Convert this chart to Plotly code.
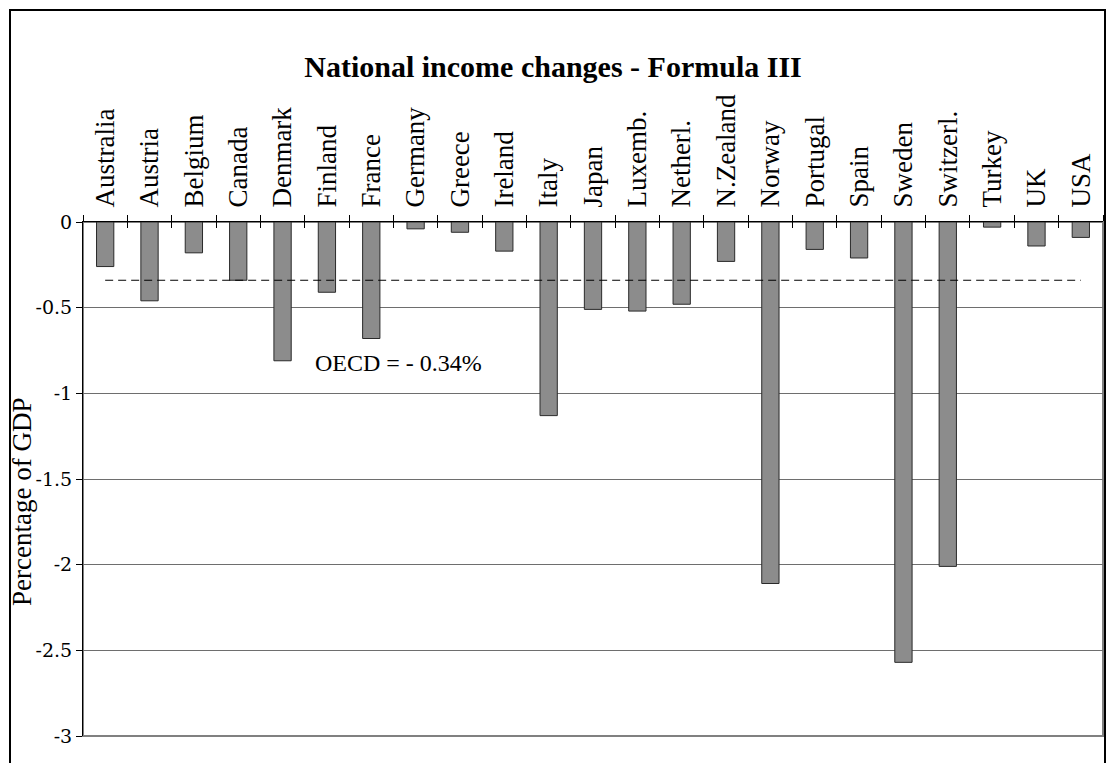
import plotly.graph_objects as go

categories = ["Australia", "Austria", "Belgium", "Canada", "Denmark", "Finland", "France",
              "Germany", "Greece", "Ireland", "Italy", "Japan", "Luxemb.", "Netherl.",
              "N.Zealand", "Norway", "Portugal", "Spain", "Sweden", "Switzerl.", "Turkey",
              "UK", "USA"]
values = [-0.26, -0.46, -0.18, -0.34, -0.81, -0.41, -0.68,
          -0.04, -0.06, -0.17, -1.13, -0.51, -0.52, -0.48,
          -0.23, -2.11, -0.16, -0.21, -2.57, -2.01, -0.03,
          -0.14, -0.09]
oecd_avg = -0.34
y_tickvals = [0, -0.5, -1, -1.5, -2, -2.5, -3]
y_ticktext = ["0", "-0.5", "-1", "-1.5", "-2", "-2.5", "-3"]

W, H = 1106, 763
L, R, T, B = 83, 3, 222, 27
pw = W - L - R
ph = H - T - B

SERIF = "Liberation Serif"

fig = go.Figure()
fig.add_trace(go.Bar(
    x=categories, y=values, width=0.39,
    marker=dict(color="#8c8c8c", line=dict(color="#2a2a2a", width=1)),
    showlegend=False, hoverinfo="x+y"))
# dashed OECD average line, drawn on the secondary (numeric) x axis from first to last category centre
idx = list(range(len(categories)))
fig.add_trace(go.Scatter(
    x=idx, y=[oecd_avg] * len(categories), mode="lines", xaxis="x2",
    line=dict(color="black", width=1, dash="8px,5px"),
    showlegend=False, hoverinfo="skip"))

fig.update_layout(
    width=W, height=H,
    margin=dict(l=L, r=R, t=T, b=B),
    paper_bgcolor="white", plot_bgcolor="white",
    title=dict(text="<b>National income changes - Formula III</b>",
               font=dict(family=SERIF, size=30, color="black"),
               x=0.5, xref="container", xanchor="center",
               y=1 - 66 / H, yref="container", yanchor="middle"),
    xaxis=dict(type="category", side="top", tickangle=-90,
               tickfont=dict(family=SERIF, size=27, color="black"),
               ticks="outside", ticklen=6, tickcolor="black", tickson="boundaries",
               ticklabelstandoff=8,
               showline=True, linecolor="black", linewidth=1,
               showgrid=False, range=[-0.5, len(categories) - 0.5], fixedrange=True),
    xaxis2=dict(overlaying="x", side="top", anchor="y", range=[-0.5, len(categories) - 0.5],
                tick0=-0.5, dtick=1, ticks="inside", ticklen=6, tickcolor="black",
                showticklabels=False, showgrid=False, showline=False, zeroline=False,
                fixedrange=True),
    yaxis=dict(range=[-3, 0], tickvals=y_tickvals, ticktext=y_ticktext,
               tickfont=dict(family="DejaVu Serif", size=19, color="black"),
               ticks="outside", ticklen=6, tickcolor="black",
               showline=True, linecolor="black", linewidth=1,
               showgrid=True, gridcolor="#6e6e6e", gridwidth=1,
               zeroline=False, fixedrange=True),
    bargap=0.6,
)

# plot area border (gray) on right/bottom
fig.add_shape(type="rect", xref="paper", yref="paper", x0=0, x1=1, y0=0, y1=1,
              line=dict(color="#808080", width=2), layer="below")
# outer frame
fig.add_shape(type="rect", xref="paper", yref="paper",
              x0=(10 - L) / pw, x1=(1105 - L) / pw,
              y0=-(B + 20) / ph, y1=1 + (T - 10) / ph,
              line=dict(color="black", width=2))

fig.add_annotation(text="OECD = - 0.34%", xref="paper", yref="y",
                   x=(398 - L) / pw, y=-(363 - T) / (ph / 3),
                   xanchor="center", yanchor="middle",
                   showarrow=False, font=dict(family=SERIF, size=24, color="black"))
fig.add_annotation(text="Percentage of GDP", xref="paper", yref="y",
                   x=(22 - L) / pw, y=-(502 - T) / (ph / 3), textangle=-90,
                   xanchor="center", yanchor="middle",
                   showarrow=False, font=dict(family=SERIF, size=27, color="black"))

fig.write_html("out.html")
